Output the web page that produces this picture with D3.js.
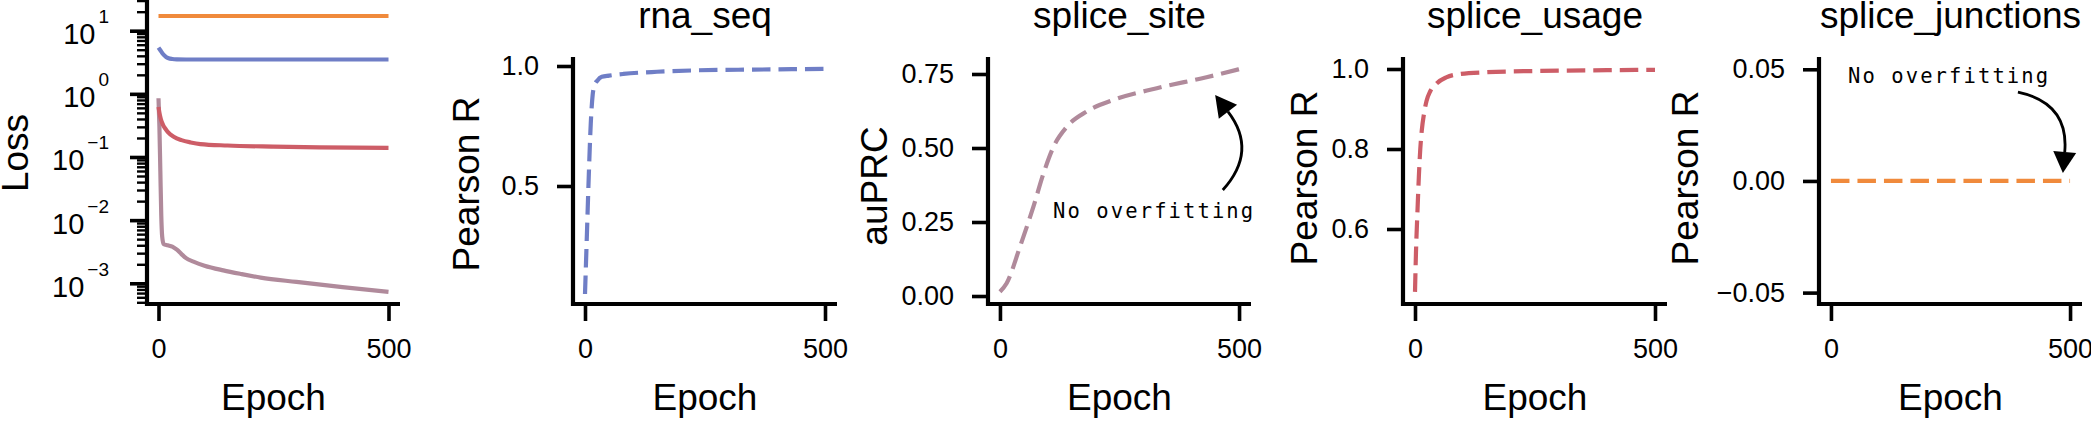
<!DOCTYPE html>
<html><head><meta charset="utf-8">
<script src="https://cdn.jsdelivr.net/npm/d3@7"></script>
<style>
body{margin:0;background:#fff;}
svg{display:block;font-family:"Liberation Sans",Arial,Helvetica,sans-serif;}
</style></head><body>
<svg id="c" width="2091" height="421"></svg>
<script>
// ---------------- DATA ----------------
const xTickValues = [0, 500];
const xTickLabels = ["0", "500"];

// Loss panel (log scale)
const lossMajorTicks = [1e-3, 1e-2, 1e-1, 1e0, 1e1];
const lossMajorExps = ["\u22123", "\u22122", "\u22121", "0", "1"];

const lossEpochJunctions = [0, 100, 200, 300, 400, 500];
const lossJunctions = [17.1, 17.1, 17.1, 17.1, 17.1, 17.1];

const lossEpochRna = [0, 4, 8, 12, 16, 22, 30, 40, 60, 100, 200, 300, 400, 500];
const lossRna = [5.4, 4.9, 4.45, 4.1, 3.85, 3.65, 3.56, 3.52, 3.5, 3.5, 3.5, 3.5, 3.5, 3.5];

const lossEpochSite = [0, 2, 4, 6, 8, 11, 20, 30, 40, 50, 60, 76, 100, 141, 180, 222, 300, 400, 500];
const lossSite = [0.85, 0.3, 0.06, 0.012, 0.0055, 0.0042, 0.0040, 0.0038, 0.0034, 0.0029, 0.0025, 0.0022, 0.0019, 0.0016, 0.0014, 0.00123, 0.00105, 0.00087, 0.00073];

const lossEpochUsage = [0, 2, 5, 10, 15, 20, 33, 50, 70, 91, 150, 250, 350, 500];
const lossUsage = [0.62, 0.5, 0.4, 0.32, 0.28, 0.25, 0.21, 0.185, 0.17, 0.16, 0.152, 0.146, 0.142, 0.139];

// Validation metrics
const rnaEpochs = [0, 4, 8, 12, 16, 20, 26, 35, 50, 80, 150, 233, 350, 500];
const rnaPearson = [0.05, 0.3, 0.55, 0.76, 0.88, 0.92, 0.94, 0.955, 0.96, 0.967, 0.976, 0.982, 0.985, 0.988];
const rnaYTicks = [0.5, 1.0];
const rnaYTickLabels = ["0.5", "1.0"];

const siteEpochs = [0, 14, 42, 70, 91, 112, 140, 181, 237, 328, 432, 500];
const siteAuPRC = [0.0145, 0.043, 0.167, 0.302, 0.414, 0.504, 0.572, 0.623, 0.662, 0.702, 0.739, 0.766];
const siteYTicks = [0, 0.25, 0.5, 0.75];
const siteYTickLabels = ["0.00", "0.25", "0.50", "0.75"];

const usageEpochs = [0, 2, 5, 8, 11, 14, 19, 24, 32, 45, 65, 94, 150, 250, 400, 500];
const usagePearson = [0.443, 0.54, 0.64, 0.73, 0.80, 0.845, 0.89, 0.92, 0.945, 0.964, 0.979, 0.9875, 0.992, 0.995, 0.997, 0.998];
const usageYTicks = [0.6, 0.8, 1.0];
const usageYTickLabels = ["0.6", "0.8", "1.0"];

const junctionsEpochs = [0, 100, 200, 300, 400, 500];
const junctionsPearson = [0, 0, 0, 0, 0, 0];
const junctionsYTicks = [-0.05, 0, 0.05];
const junctionsYTickLabels = ["\u22120.05", "0.00", "0.05"];

const annotationText = "No overfitting";

// ---------------- STYLE / LAYOUT ----------------
const colors = {rna: "#6f7ec6", site: "#b08a9b", usage: "#cd5d67", junctions: "#f08a3c"};
const zip = (a, b) => a.map((v, i) => [v, b[i]]);

const svg = d3.select("#c");
const tickFont = 27, labelFont = 37;
const xDomain = [-25, 525];

const panels = [
  {key: "loss", left: 147, right: 400, top: 0, bottom: 304, log: true,
   yDomain: [Math.pow(10, -3.328), Math.pow(10, 1.486)], ylabel: "Loss", ylabelX: 28, ylabelY: 153,
   series: [
     {d: zip(lossEpochJunctions, lossJunctions), c: colors.junctions},
     {d: zip(lossEpochRna, lossRna), c: colors.rna},
     {d: zip(lossEpochSite, lossSite), c: colors.site},
     {d: zip(lossEpochUsage, lossUsage), c: colors.usage}
   ]},
  {key: "rna", title: "rna_seq", left: 573, right: 837, top: 57, bottom: 304,
   yDomain: [0.0083, 1.0375], yTicks: rnaYTicks, yLabels: rnaYTickLabels,
   ylabel: "Pearson R", ylabelX: 479, ylabelY: 184,
   series: [{d: zip(rnaEpochs, rnaPearson), c: colors.rna, dash: true}]},
  {key: "site", title: "splice_site", left: 988, right: 1251, top: 57, bottom: 304,
   yDomain: [-0.027, 0.8074], yTicks: siteYTicks, yLabels: siteYTickLabels,
   ylabel: "auPRC", ylabelX: 887, ylabelY: 186,
   series: [{d: zip(siteEpochs, siteAuPRC), c: colors.site, dash: true}],
   ann: {textAt: [111, 0.2635], tail: [466, 0.358], ctrl: [540, 0.49], tip: [450, 0.679]}},
  {key: "usage", title: "splice_usage", left: 1403, right: 1667, top: 57, bottom: 304,
   yDomain: [0.4125, 1.03], yTicks: usageYTicks, yLabels: usageYTickLabels,
   ylabel: "Pearson R", ylabelX: 1317, ylabelY: 178,
   series: [{d: zip(usageEpochs, usagePearson), c: colors.usage, dash: true}]},
  {key: "junctions", title: "splice_junctions", left: 1819, right: 2082, top: 57, bottom: 304,
   yDomain: [-0.0551, 0.0555], yTicks: junctionsYTicks, yLabels: junctionsYTickLabels,
   ylabel: "Pearson R", ylabelX: 1698, ylabelY: 178,
   series: [{d: zip(junctionsEpochs, junctionsPearson), c: colors.junctions, dash: true}],
   ann: {textAt: [35.6, 0.0439], tail: [391, 0.0398], ctrl: [498, 0.0349], tip: [485, 0.00358]}}
];

panels.forEach(p => {
  const g = svg.append("g");
  const x = d3.scaleLinear().domain(xDomain).range([p.left, p.right]);
  const y = (p.log ? d3.scaleLog() : d3.scaleLinear()).domain(p.yDomain).range([p.bottom, p.top]);

  // data lines
  const line = d3.line().x(d => x(d[0])).y(d => y(d[1])).curve(d3.curveMonotoneX);
  p.series.forEach(s => {
    g.append("path").attr("d", line(s.d)).attr("fill", "none")
      .attr("stroke", s.c).attr("stroke-width", 4.2)
      .attr("stroke-linejoin", "round")
      .attr("stroke-dasharray", s.dash ? "18.5,8" : null);
  });

  // x axis
  const xa = g.append("g").attr("transform", `translate(0,${p.bottom})`)
    .call(d3.axisBottom(x).tickValues(xTickValues).tickFormat((d, i) => xTickLabels[i])
      .tickSize(17).tickPadding(18));
  xa.select(".domain").remove();
  xa.selectAll("line").attr("stroke", "#000").attr("stroke-width", 3.6);
  xa.selectAll("text").attr("font-size", tickFont).attr("fill", "#000")
    .attr("font-family", "Liberation Sans, Arial, sans-serif");

  // y axis
  if (p.log) {
    const minors = [];
    for (let e = -4; e <= 1; e++) for (let k = 2; k <= 9; k++) {
      const v = k * Math.pow(10, e);
      if (v >= p.yDomain[0] && v <= p.yDomain[1]) minors.push(v);
    }
    const ym = g.append("g").attr("transform", `translate(${p.left},0)`)
      .call(d3.axisLeft(y).tickValues(minors).tickFormat("").tickSize(10));
    ym.select(".domain").remove();
    ym.selectAll("line").attr("stroke", "#000").attr("stroke-width", 2.4);
    const yM = g.append("g").attr("transform", `translate(${p.left},0)`)
      .call(d3.axisLeft(y).tickValues(lossMajorTicks).tickFormat("").tickSize(17));
    yM.select(".domain").remove();
    yM.selectAll("line").attr("stroke", "#000").attr("stroke-width", 3.6);
    lossMajorTicks.forEach((v, i) => {
      const t = g.append("text").attr("x", 109).attr("y", y(v) + 13.5)
        .attr("text-anchor", "end").attr("font-size", 29).attr("fill", "#000");
      t.append("tspan").text("10");
      t.append("tspan").attr("dy", -21).attr("dx", 3).attr("font-size", 19).text(lossMajorExps[i]);
    });
  } else {
    const ya = g.append("g").attr("transform", `translate(${p.left},0)`)
      .call(d3.axisLeft(y).tickValues(p.yTicks).tickFormat((d, i) => p.yLabels[i])
        .tickSize(16).tickPadding(18));
    ya.select(".domain").remove();
    ya.selectAll("line").attr("stroke", "#000").attr("stroke-width", 3.6);
    ya.selectAll("text").attr("font-size", tickFont).attr("fill", "#000")
      .attr("font-family", "Liberation Sans, Arial, sans-serif");
  }

  // spines
  g.append("path")
    .attr("d", `M${p.left},${p.top}V${p.bottom}H${p.right}`)
    .attr("fill", "none").attr("stroke", "#000").attr("stroke-width", 4.2)
    .attr("stroke-linejoin", "miter");

  // labels
  if (p.title) {
    g.append("text").attr("x", (p.left + p.right) / 2).attr("y", 28)
      .attr("text-anchor", "middle").attr("font-size", labelFont).text(p.title);
  }
  g.append("text").attr("x", (p.left + p.right) / 2).attr("y", 410)
    .attr("text-anchor", "middle").attr("font-size", labelFont).text("Epoch");
  g.append("text").attr("transform", `translate(${p.ylabelX},${p.ylabelY}) rotate(-90)`)
    .attr("text-anchor", "middle").attr("font-size", labelFont).text(p.ylabel);

  // annotation
  if (p.ann) {
    const a = p.ann;
    g.append("text").attr("x", x(a.textAt[0])).attr("y", y(a.textAt[1]))
      .attr("font-family", "DejaVu Sans Mono, monospace").attr("font-size", 20.5)
      .attr("letter-spacing", 2.1).attr("fill", "#000").text(annotationText);
    const P0 = [x(a.tail[0]), y(a.tail[1])];
    const C = [x(a.ctrl[0]), y(a.ctrl[1])];
    const T = [x(a.tip[0]), y(a.tip[1])];
    let dx = T[0] - C[0], dy = T[1] - C[1];
    const L = Math.hypot(dx, dy); dx /= L; dy /= L;
    const headLen = 21, headHalf = 11.5;
    const B = [T[0] - dx * headLen, T[1] - dy * headLen];
    g.append("path").attr("d", `M${P0[0]},${P0[1]}Q${C[0]},${C[1]} ${B[0]},${B[1]}`)
      .attr("fill", "none").attr("stroke", "#000").attr("stroke-width", 2.8);
    const nx = -dy, ny = dx;
    g.append("path")
      .attr("d", `M${T[0]},${T[1]}L${B[0] + nx * headHalf},${B[1] + ny * headHalf}L${B[0] - nx * headHalf},${B[1] - ny * headHalf}Z`)
      .attr("fill", "#000");
  }
});
</script>
</body></html>
